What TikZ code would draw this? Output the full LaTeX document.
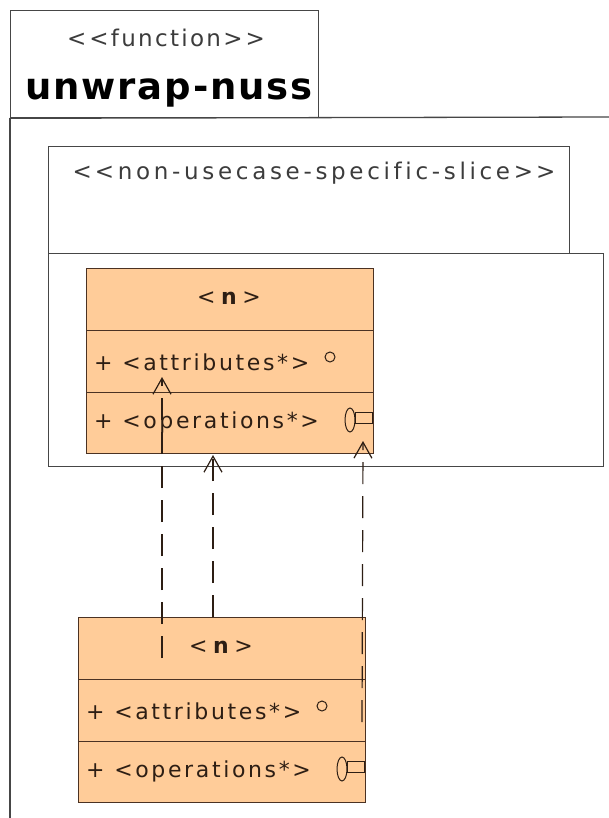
\documentclass[tikz,border=0pt]{standalone}
\usepackage{fontspec}
\setmainfont{DejaVu Sans}[Ligatures=NoCommon]
\usetikzlibrary{arrows.meta}
\definecolor{classfill}{RGB}{255,204,153}
\definecolor{classline}{RGB}{75,50,35}
\definecolor{classtext}{RGB}{45,30,20}
\definecolor{framecol}{RGB}{70,70,70}
\definecolor{stereocol}{RGB}{60,60,60}
\begin{document}
\begin{tikzpicture}[x=1pt,y=-1pt,
  framebox/.style={draw=framecol, line width=1.3pt, anchor=north west, inner sep=0pt},
  classbox/.style={draw=classline, line width=1.3pt, fill=classfill, anchor=north west, inner sep=0pt, minimum width=287pt},
  ctext/.style={text=classtext, font=\fontsize{22}{24}\selectfont\addfontfeature{LetterSpace=12}, anchor=base west, inner sep=0pt},
  ctitle/.style={text=classtext, font=\fontsize{22}{24}\selectfont\addfontfeature{LetterSpace=25}, anchor=base, inner sep=0pt},
  icon/.style={draw=classtext, line width=1pt},
  dep/.style={draw=classtext, line width=1.2pt, dash pattern=on 22pt off 12pt, -{Straight Barb[length=16pt,width=18pt]}},
]
\useasboundingbox (0,0) rectangle (609,818);
\fill[white] (0,0) rectangle (609,818);

% function frame
\node[framebox, minimum width=308pt, minimum height=107pt] (ftab) at (10,10) {};
\coordinate (fbl) at (10,818);
\coordinate (fbr) at (609,117);
\draw[framecol, line width=1.3pt] (ftab.south west) -- (fbl);
\draw[framecol, line width=1.3pt] (ftab.south west) -- (fbr);
\node[anchor=base, inner sep=0pt, text=stereocol, font=\fontsize{23}{26}\selectfont\addfontfeature{LetterSpace=10}] (fst) at (166,47) {<\kern3pt<function>\kern3pt>};
\node[anchor=base, inner sep=0pt, font=\fontsize{37}{40}\selectfont\bfseries\addfontfeature{LetterSpace=5}] (fname) at (169,100) {unwrap-nuss};

% slice
\node[framebox, minimum width=521pt, minimum height=107pt] (stab) at (48,146) {};
\node[framebox, minimum width=555pt, minimum height=213pt] (sbody) at (48,253) {};
\node[anchor=base, inner sep=0pt, text=stereocol, font=\fontsize{23}{26}\selectfont\addfontfeature{LetterSpace=16}] (sst) at (314,180) {<\kern3pt<non-usecase-specific-slice>\kern3pt>};

% upper class
\node[classbox, minimum height=62pt] (c1h) at (86,268) {};
\node[classbox, minimum height=62pt] (c1a) at (86,330) {};
\node[classbox, minimum height=61pt] (c1o) at (86,392) {};
\node[ctitle] (c1ht) at (229,304) {<\textbf{n}>};
\node[ctext] (c1at) at (94,370) {+ <attributes*>};
\node[ctext] (c1ot) at (94,428) {+ <operations*>};
\draw[icon] (330,357) circle (5pt);
\draw[icon] (350,420) ellipse (5pt and 12pt);
\draw[icon] (355,412) rectangle (372,423);

% lower class
\node[classbox, minimum height=62pt] (c2h) at (78,617) {};
\node[classbox, minimum height=62pt] (c2a) at (78,679) {};
\node[classbox, minimum height=61pt] (c2o) at (78,741) {};
\node[ctitle] (c2ht) at (221,653) {<\textbf{n}>};
\node[ctext] (c2at) at (86,719) {+ <attributes*>};
\node[ctext] (c2ot) at (86,777) {+ <operations*>};
\draw[icon] (322,706) circle (5pt);
\draw[icon] (342,769) ellipse (5pt and 12pt);
\draw[icon] (347,761) rectangle (364,772);

% dependencies
\coordinate (d1s) at (162,658);
\coordinate (d1e) at (162,377);
\coordinate (d2s) at (213,617);
\coordinate (d2e) at (213,455);
\coordinate (d3s) at (362,722);
\coordinate (d3e) at (363,441);
\draw[dep] (d1s) -- (d1e);
\draw[dep] (d2s) -- (d2e);
\draw[dep] (d3s) -- (d3e);
\end{tikzpicture}
\end{document}
